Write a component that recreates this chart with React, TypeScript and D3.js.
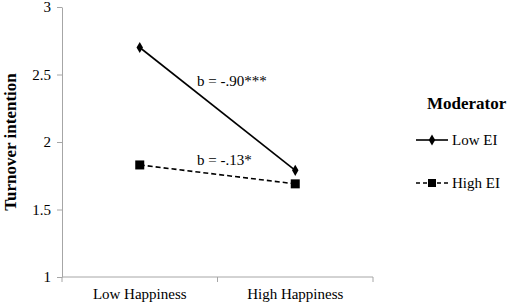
import React, { useEffect, useRef } from "react";
import * as d3 from "d3";

const categories = ["Low Happiness", "High Happiness"];
const lowEI = [2.7, 1.79];
const highEI = [1.83, 1.69];
const yTicks = [1, 1.5, 2, 2.5, 3];
const seriesNames = ["Low EI", "High EI"];
const slopeLabels = ["b = -.90***", "b = -.13*"];

const App = () => {
  const ref = useRef<SVGSVGElement>(null);

  useEffect(() => {
    const svg = d3.select(ref.current);
    svg.selectAll("*").remove();
    svg.attr("font-family", "'Liberation Serif', 'DejaVu Serif', serif");

    const x = d3.scaleBand().domain(categories).range([62, 373]);
    const y = d3.scaleLinear().domain([1, 3]).range([277, 7]);
    const cx = (c: string) => (x(c) as number) + x.bandwidth() / 2;

    // y axis
    const yAxis = svg
      .append("g")
      .attr("transform", "translate(62,0)")
      .call(d3.axisLeft(y).tickValues(yTicks).tickFormat(d3.format("")).tickSize(5).tickSizeOuter(0));
    yAxis.attr("font-family", null).attr("font-size", null);
    yAxis.select(".domain").attr("stroke", "#a6a6a6");
    yAxis.selectAll(".tick line").attr("stroke", "#a6a6a6");
    yAxis
      .selectAll(".tick text")
      .attr("font-size", 15)
      .attr("fill", "#000")
      .attr("x", -11);

    // x axis
    const xAxis = svg.append("g").attr("transform", "translate(0,277)");
    xAxis
      .append("line")
      .attr("x1", 62)
      .attr("x2", 373)
      .attr("stroke", "#a6a6a6");
    const bounds = [62, ...categories.map((c) => (x(c) as number) + x.bandwidth())];
    xAxis
      .selectAll("line.tk")
      .data(bounds)
      .join("line")
      .attr("class", "tk")
      .attr("x1", (d) => d)
      .attr("x2", (d) => d)
      .attr("y1", 0)
      .attr("y2", 5)
      .attr("stroke", "#a6a6a6");
    xAxis
      .selectAll("text")
      .data(categories)
      .join("text")
      .attr("x", (d) => cx(d))
      .attr("y", 22)
      .attr("text-anchor", "middle")
      .attr("font-size", 15)
      .text((d) => d);

    // y title
    svg
      .append("text")
      .attr("transform", `translate(16,${y(2)}) rotate(-90)`)
      .attr("text-anchor", "middle")
      .attr("font-size", 17)
      .attr("font-weight", "bold")
      .text("Turnover intention");

    const line = d3
      .line<number>()
      .x((_, i) => cx(categories[i]))
      .y((d) => y(d));

    svg
      .append("path")
      .attr("d", line(lowEI))
      .attr("fill", "none")
      .attr("stroke", "#000")
      .attr("stroke-width", 1.6);
    svg
      .append("path")
      .attr("d", line(highEI))
      .attr("fill", "none")
      .attr("stroke", "#000")
      .attr("stroke-width", 1.6)
      .attr("stroke-dasharray", "5,3");

    const diamond = d3.symbol().type(d3.symbolDiamond).size(36);
    svg
      .selectAll("path.dm")
      .data(lowEI)
      .join("path")
      .attr("class", "dm")
      .attr("d", diamond)
      .attr("transform", (d, i) => `translate(${cx(categories[i])},${y(d)})`)
      .attr("fill", "#000");
    svg
      .selectAll("rect.sq")
      .data(highEI)
      .join("rect")
      .attr("class", "sq")
      .attr("x", (_, i) => cx(categories[i]) - 4.5)
      .attr("y", (d) => y(d) - 4.5)
      .attr("width", 9)
      .attr("height", 9)
      .attr("fill", "#000");

    // slope labels
    svg
      .selectAll("text.sl")
      .data(slopeLabels)
      .join("text")
      .attr("class", "sl")
      .attr("x", 197)
      .attr("y", (_, i) => (i === 0 ? 86 : 165))
      .attr("font-size", 15)
      .text((d) => d);

    // legend
    const lg = svg.append("g");
    lg.append("text")
      .attr("x", 427)
      .attr("y", 109)
      .attr("font-size", 17)
      .attr("font-weight", "bold")
      .text("Moderator");
    const rows = [140, 183];
    seriesNames.forEach((name, i) => {
      const yy = rows[i];
      lg.append("line")
        .attr("x1", 416)
        .attr("x2", 448)
        .attr("y1", yy)
        .attr("y2", yy)
        .attr("stroke", "#000")
        .attr("stroke-width", 1.6)
        .attr("stroke-dasharray", i === 1 ? "4,3" : null);
      if (i === 0) {
        lg.append("path")
          .attr("d", diamond)
          .attr("transform", `translate(432,${yy})`)
          .attr("fill", "#000");
      } else {
        lg.append("rect")
          .attr("x", 428)
          .attr("y", yy - 4)
          .attr("width", 8)
          .attr("height", 8)
          .attr("fill", "#000");
      }
      lg.append("text")
        .attr("x", 452)
        .attr("y", yy + 5)
        .attr("font-size", 15)
        .text(name);
    });
  }, []);

  return <svg ref={ref} width={510} height={303} style={{ position: "absolute", left: 0, top: 0 }}></svg>;
};

export default App;
